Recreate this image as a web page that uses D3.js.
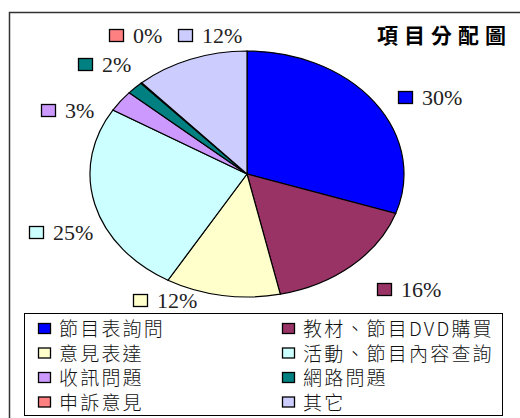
<!DOCTYPE html>
<html>
<head>
<meta charset="utf-8">
<script src="https://cdn.jsdelivr.net/npm/d3@7"></script>
<style>
  body { margin: 0; background: #fff; }
  svg { display: block; }
</style>
</head>
<body>
<div id="chart"></div>
<script>
// categories in drawing order (clockwise from 12 o'clock)
var categories = ["節目表詢問", "教材、節目DVD購買", "意見表達", "活動、節目內容查詢", "收訊問題", "網路問題", "申訴意見", "其它"];
// share of each item, in percent
var shares = [30.2, 16.4, 11.8, 25.3, 2.8, 1.7, 0.1, 11.7];
var colors = ["#0000ff", "#993366", "#ffffcc", "#ccffff", "#cc99ff", "#008080", "#ff8080", "#ccccff"];
var title = "項目分配圖";

// where Excel put each data label (key box top-left)
var labelAt = [[398, 91], [377, 283], [133, 294], [29, 226], [41, 104], [78, 58], [109, 29], [178, 29]];

var width = 520, height = 418;
var cx = 247, cy = 174, rx = 157, ry = 123;

var svg = d3.select("#chart").append("svg")
  .attr("width", width)
  .attr("height", height);

// outer chart frame
svg.append("rect")
  .attr("x", 9.5).attr("y", 12.5)
  .attr("width", 530).attr("height", 430)
  .style("fill", "none")
  .style("stroke", "#333")
  .style("stroke-width", 1.5);

var rows = categories.map(function (c, i) {
  return { name: c, value: shares[i], color: colors[i], pos: labelAt[i] };
});

var pie = d3.pie().sort(null).value(function (d) { return d.value; });
var arc = d3.arc().innerRadius(0).outerRadius(ry);

// pie is drawn round, then stretched to an ellipse
var pieG = svg.append("g")
  .attr("transform", "translate(" + cx + "," + cy + ") scale(" + (rx / ry) + ",1)");

pieG.selectAll("path")
  .data(pie(rows))
  .enter()
  .append("path")
  .attr("d", arc)
  .style("fill", function (d) { return d.data.color; })
  .style("stroke", "#000")
  .style("stroke-width", 1.2)
  .attr("vector-effect", "non-scaling-stroke");

// data labels
var labels = svg.selectAll(".lab")
  .data(rows)
  .enter()
  .append("g")
  .attr("class", "lab")
  .attr("transform", function (d) { return "translate(" + d.pos[0] + "," + d.pos[1] + ")"; });

labels.append("rect")
  .attr("x", 0.5).attr("y", 0.5)
  .attr("width", 14).attr("height", 12)
  .style("fill", function (d) { return d.color; })
  .style("stroke", "#000")
  .style("stroke-width", 1.3);

labels.append("text")
  .attr("x", 24).attr("y", 14)
  .style("font-family", "'Liberation Serif', 'DejaVu Serif', serif")
  .style("font-size", "22px")
  .style("fill", "#222")
  .text(function (d) { return Math.round(d.value) + "%"; });

// title
svg.append("text")
  .attr("x", 377).attr("y", 43)
  .style("font-family", "'Noto Sans CJK TC', sans-serif")
  .style("font-size", "21px")
  .style("font-weight", "bold")
  .style("letter-spacing", "6px")
  .text(title);

// legend
var legend = svg.append("g");
legend.append("rect")
  .attr("x", 24.5).attr("y", 313.5)
  .attr("width", 478).attr("height", 102)
  .style("fill", "#fff")
  .style("stroke", "#000")
  .style("stroke-width", 1);

var items = legend.selectAll(".item")
  .data(rows)
  .enter()
  .append("g")
  .attr("class", "item")
  .attr("transform", function (d, i) {
    var col = i % 2, row = Math.floor(i / 2);
    return "translate(" + (col ? 282 : 38) + "," + (323 + row * 24.5) + ")";
  });

items.append("rect")
  .attr("x", 0.5).attr("y", 0.5)
  .attr("width", 12).attr("height", 10)
  .style("fill", function (d) { return d.color; })
  .style("stroke", "#000")
  .style("stroke-width", 1.3);

items.append("text")
  .attr("x", 21).attr("y", 13)
  .style("font-family", "'Noto Sans CJK TC', sans-serif")
  .style("font-size", "19px")
  .style("font-weight", "300")
  .style("letter-spacing", "2.2px")
  .style("fill", "#111")
  .text(function (d) { return d.name; });
</script>
</body>
</html>
